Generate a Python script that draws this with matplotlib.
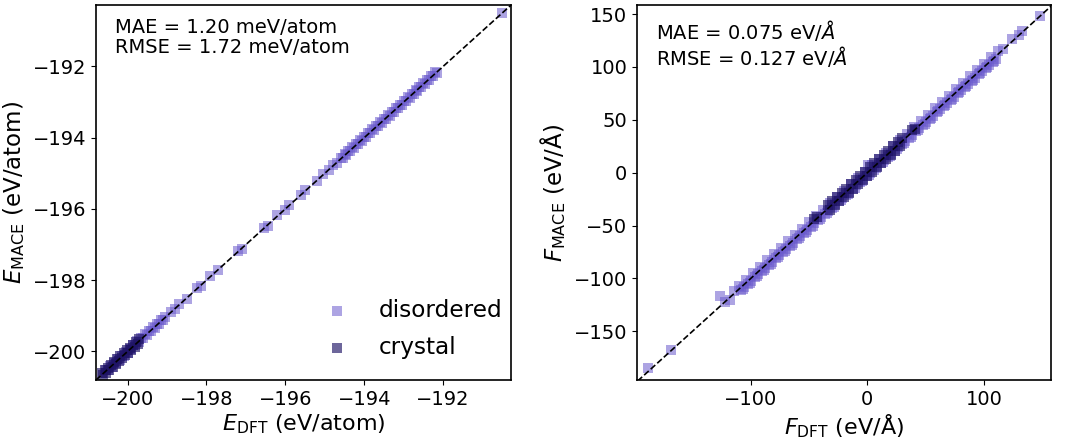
"""
MACE vs DFT parity plots: energies (left) and forces (right)
"""
import matplotlib
matplotlib.use("Agg")
import matplotlib.pyplot as plt

# ====================== data ======================
# energy per atom, disordered structures (eV/atom)
e_dis_dft = [-200.55, -200.5, -200.45, -200.4, -200.35, -200.3, -200.25, -200.2,
             -200.15, -200.1, -200.05, -200.0, -199.95, -199.9, -199.85, -199.8,
             -199.75, -199.7, -199.65, -199.6, -199.55, -199.5, -199.45, -199.4,
             -199.35, -199.3, -199.25, -199.2, -199.15, -199.1, -199.05,
             -198.9, -198.8, -198.7, -198.5, -198.25, -198.15, -197.9, -197.7,
             -197.2, -197.1, -196.55, -196.45, -196.2, -196.0, -195.9, -195.6,
             -195.5, -195.2, -195.05, -194.9, -194.8, -194.7,
             -194.6, -194.55, -194.5, -194.45, -194.4, -194.35, -194.3, -194.25,
             -194.2, -194.15, -194.1, -194.05, -194.0, -193.95, -193.9, -193.85,
             -193.8, -193.75, -193.7, -193.65, -193.6, -193.55, -193.5, -193.45,
             -193.4, -193.35, -193.3, -193.25, -193.2, -193.15, -193.1, -193.05,
             -193.0, -192.95, -192.9, -192.85, -192.8, -192.75, -192.7, -192.65,
             -192.6, -192.55, -192.5, -192.45, -192.4, -192.35, -192.3, -192.25,
             -192.2, -192.15, -190.5]
e_dis_mace = [-200.52, -200.53, -200.42, -200.43, -200.32, -200.33, -200.22, -200.23,
              -200.12, -200.13, -200.02, -200.03, -199.92, -199.93, -199.82, -199.83,
              -199.72, -199.73, -199.62, -199.63, -199.52, -199.53, -199.42, -199.43,
              -199.32, -199.33, -199.22, -199.23, -199.12, -199.13, -199.02,
              -198.88, -198.82, -198.68, -198.52, -198.23, -198.17, -197.88, -197.72,
              -197.18, -197.12, -196.53, -196.47, -196.18, -196.02, -195.88, -195.62,
              -195.48, -195.22, -195.03, -194.92, -194.78, -194.72,
              -194.57, -194.58, -194.47, -194.48, -194.37, -194.38, -194.27, -194.28,
              -194.17, -194.18, -194.07, -194.08, -193.97, -193.98, -193.87, -193.88,
              -193.77, -193.78, -193.67, -193.68, -193.57, -193.58, -193.47, -193.48,
              -193.37, -193.38, -193.27, -193.28, -193.17, -193.18, -193.07, -193.08,
              -192.97, -192.98, -192.87, -192.88, -192.77, -192.78, -192.67, -192.68,
              -192.57, -192.58, -192.47, -192.48, -192.37, -192.38, -192.27, -192.28,
              -192.17, -192.18, -190.5]

# energy per atom, crystal structures (eV/atom)
e_cry_dft = [-200.66, -200.62, -200.58, -200.54, -200.5, -200.46, -200.42, -200.38,
             -200.34, -200.3, -200.26, -200.22, -200.18, -200.14, -200.1, -200.06,
             -200.02, -199.98, -199.94, -199.9, -199.86, -199.82, -199.78, -199.74,
             -199.7]
e_cry_mace = [-200.61, -200.67, -200.53, -200.59, -200.45, -200.51, -200.37, -200.43,
              -200.29, -200.35, -200.21, -200.27, -200.13, -200.19, -200.05, -200.11,
              -199.97, -200.03, -199.89, -199.95, -199.81, -199.87, -199.73, -199.79,
              -199.65]

# force components, disordered structures (eV/Å)
f_dis_dft = [-188, -168, -126, -122, -118, -114,
             -110, -107, -104, -101, -98, -95, -92, -89, -86, -83, -80, -77, -74, -71,
             -68, -65, -62, -59, -56, -53, -50, -47, -44, -41, -38, -35, -32, -29,
             -26, -23, -20, -17, -14, -11, -8, -5, -2, 1, 4, 7, 10, 13, 16, 19, 22,
             25, 28, 31, 34, 37, 40, 43, 46, 49, 52, 55, 58, 61, 64, 67, 70, 73, 76,
             79, 82, 85, 88, 91, 94, 97, 100, 103, 106, 109, 112,
             -108.5, -105.5, -102.5, -99.5, -96.5, -93.5, -90.5, -87.5, -84.5, -81.5,
             -78.5, -75.5, -72.5, -69.5, -66.5, -63.5, -60.5, -57.5, -54.5, -51.5,
             -48.5, -45.5, -42.5, -39.5, -36.5, -33.5, -30.5, -27.5, -24.5, -21.5,
             -18.5, -15.5, -12.5, -9.5, -6.5, -3.5, -0.5, 2.5, 5.5, 8.5, 11.5, 14.5,
             17.5, 20.5, 23.5, 26.5, 29.5, 32.5, 35.5, 38.5, 41.5, 44.5, 47.5, 50.5,
             53.5, 56.5, 59.5, 62.5, 65.5, 68.5, 71.5, 74.5, 77.5, 80.5, 83.5, 86.5,
             89.5, 92.5, 95.5, 98.5, 101.5, 104.5, 107.5, 110.5,
             0.5, 116, 124, 130, 133, 148]
f_dis_mace = [-185, -168, -117, -122, -120, -112,
              -107, -110, -101, -104, -95, -98, -89, -92, -83, -86, -77, -80, -71, -74,
              -65, -68, -59, -62, -53, -56, -47, -50, -41, -44, -35, -38, -29, -32,
              -23, -26, -17, -20, -11, -14, -5, -8, 1, -2, 7, 4, 13, 10, 19, 16, 25,
              22, 31, 28, 37, 34, 43, 40, 49, 46, 55, 52, 61, 58, 67, 64, 73, 70, 79,
              76, 85, 82, 91, 88, 97, 94, 103, 100, 109, 106, 115,
              -111, -108, -105, -102, -99, -96, -93, -90, -87, -84,
              -81, -78, -75, -72, -69, -66, -63, -60, -57, -54,
              -51, -48, -45, -42, -39, -36, -33, -30, -27, -24,
              -21, -18, -15, -12, -9, -6, -3, 0, 3, 6, 9, 12,
              15, 18, 21, 24, 27, 30, 33, 36, 39, 42, 45, 48,
              51, 54, 57, 60, 63, 66, 69, 72, 75, 78, 81, 84,
              87, 90, 93, 96, 99, 102, 105, 108,
              7, 117, 126, 130, 134, 148]

# force components, crystal structures (eV/Å)
f_cry_dft = [-46, -43, -34, -32, -30, -28, -26, -24, -22, -20, -18, -16, -14, -12,
             -10, -8, -6, -4, -2, 0, 2, 4, 6, 8, 10, 12, 14, 16, 18, 20, 22, 24, 26,
             28, 30, 38, 41]
f_cry_mace = [-44, -42, -31, -35, -27, -31, -23, -27, -19, -23, -15, -19, -11, -15,
              -7, -11, -3, -7, 1, -3, 5, 1, 9, 5, 13, 9, 17, 13, 21, 17, 25, 21, 29,
              25, 33, 40, 41]

e_text = "MAE = 1.20 meV/atom\nRMSE = 1.72 meV/atom"
f_text = "MAE = 0.075 eV/$\\AA$\nRMSE = 0.127 eV/$\\AA$"

# ====================== style ======================
DIS_COLOR = "slateblue"
DIS_ALPHA = 0.55
CRY_COLOR = "#1f1466"
CRY_ALPHA = 0.65
MS = 50

plt.rcParams["font.family"] = "DejaVu Sans"
plt.rcParams["axes.linewidth"] = 1.2

fig = plt.figure(figsize=(10.69, 4.4), dpi=100)
ax1 = fig.add_axes([0.0898, 0.1364, 0.3882, 0.852])
ax2 = fig.add_axes([0.5959, 0.1364, 0.3873, 0.852])

# ====================== energy ======================
e_lims = [-200.8, -190.28]
ax1.scatter(e_dis_dft, e_dis_mace, s=MS, marker="s", color=DIS_COLOR, alpha=DIS_ALPHA,
            linewidths=0, label="disordered")
ax1.scatter(e_cry_dft, e_cry_mace, s=MS, marker="s", color=CRY_COLOR, alpha=CRY_ALPHA,
            linewidths=0, label="crystal")
ax1.plot(e_lims, e_lims, "k--", lw=1.2)
ax1.set_xlim(e_lims)
ax1.set_ylim(e_lims)
ax1.set_xticks([-200, -198, -196, -194, -192])
ax1.set_yticks([-200, -198, -196, -194, -192])
ax1.set_xlabel(r"$E_{\rm DFT}$ (eV/atom)", fontsize=16, labelpad=3)
ax1.set_ylabel(r"$E_{\rm MACE}$ (eV/atom)", fontsize=16.5, labelpad=4)
ax1.tick_params(labelsize=14)
ax1.text(0.045, 0.965, e_text, transform=ax1.transAxes, ha="left", va="top",
         fontsize=14, linespacing=1.05)
ax1.legend(loc="lower right", frameon=False, fontsize=16.7, labelspacing=0.62,
           bbox_to_anchor=(1.03, 0.0))

# ====================== forces ======================
ax2.scatter(f_dis_dft, f_dis_mace, s=MS, marker="s", color=DIS_COLOR, alpha=DIS_ALPHA,
            linewidths=0)
ax2.scatter(f_cry_dft, f_cry_mace, s=MS, marker="s", color=CRY_COLOR, alpha=CRY_ALPHA,
            linewidths=0)
ax2.plot([-197, 158.5], [-197, 158.5], "k--", lw=1.2)
ax2.set_xlim(-197.5, 157.5)
ax2.set_ylim(-196, 158.5)
ax2.set_xticks([-100, 0, 100])
ax2.set_yticks([-150, -100, -50, 0, 50, 100, 150])
ax2.set_xlabel(r"$F_{\rm DFT}$ (eV/Å)", fontsize=16, labelpad=3)
ax2.set_ylabel(r"$F_{\rm MACE}$ (eV/Å)", fontsize=16.5, labelpad=4)
ax2.tick_params(labelsize=14)
ax2.text(0.045, 0.965, f_text, transform=ax2.transAxes, ha="left", va="top",
         fontsize=14, linespacing=1.05)

fig.savefig("out.png", dpi=100)
